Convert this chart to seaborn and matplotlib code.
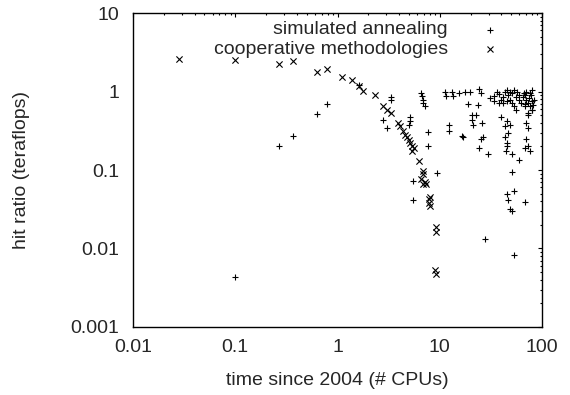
import numpy as np
import pandas as pd
import matplotlib
matplotlib.use('Agg')
import matplotlib.pyplot as plt
import matplotlib.ticker as mticker
import seaborn as sns

# simulated annealing (+)
sa_x = [0.10, 0.27, 0.37, 0.63, 0.79, 1.64, 2.80, 3.02, 3.30, 3.30,
        5.16, 5.16, 4.95, 5.5, 5.5, 6.6, 6.7, 6.8, 7.1, 6.9,
        7.6, 7.6, 9.3, 12.2, 12.2, 11.2, 11.6, 13.1, 13.6, 15.4,
        16.4, 16.8, 17.6, 19.9, 19.0, 20.7, 21.2, 20.7, 22.6, 23.8,
        24.4, 25.3, 24.0, 25.3, 26.1, 26.7, 29.9, 27.5, 31.1, 33.7,
        36.6, 38.2, 39.7, 41.4, 43.1, 44.9, 46.8, 48.7, 50.8, 52.9,
        55.1, 50.8, 55.1, 57.4, 59.8, 64.9, 70.4, 73.3, 76.4, 79.6,
        76.4, 79.6, 82.9, 73.3, 33.7, 38.2, 41.4, 44.9, 48.7, 52.9,
        59.8, 62.3, 67.6, 70.4, 78.0, 80.0, 81.0, 75.0, 66.0, 68.0,
        39.7, 43.1, 44.9, 43.1, 44.9, 44.9, 44.3, 46.8, 48.7, 50.8,
        50.8, 44.9, 46.8, 48.7, 50.8, 52.9, 52.9, 59.8, 67.6, 67.6,
        70.4, 70.4, 73.3, 73.3, 76.4, 73.3, 80.5, 68.7]
sa_y = [0.0043, 0.20, 0.275, 0.52, 0.70, 1.21, 0.44, 0.34, 0.85, 0.78,
        0.48, 0.42, 0.38, 0.073, 0.041, 0.95, 0.87, 0.78, 0.65, 0.71,
        0.305, 0.20, 0.091, 0.37, 0.31, 1.0, 0.87, 1.0, 0.87, 0.95,
        0.27, 0.26, 1.0, 1.0, 0.70, 0.50, 0.38, 0.44, 0.50, 0.68,
        1.08, 0.95, 0.19, 0.245, 0.40, 0.26, 0.16, 0.0132, 0.82, 0.87,
        1.0, 0.93, 0.785, 0.86, 1.0, 1.05, 0.91, 0.785, 0.71, 0.646,
        0.586, 0.95, 0.86, 1.0, 0.91, 0.86, 0.785, 0.71, 0.95, 1.05,
        0.646, 0.586, 0.785, 0.53, 0.75, 0.71, 0.71, 0.75, 1.0, 1.05,
        0.785, 0.71, 0.646, 1.0, 0.9, 0.75, 0.68, 0.82, 0.95, 0.9,
        0.48, 0.36, 0.42, 0.26, 0.22, 0.20, 0.175, 0.30, 0.38, 0.16,
        0.094, 0.049, 0.041, 0.032, 0.030, 0.054, 0.0083, 0.136, 0.039, 0.19,
        0.40, 0.245, 0.34, 0.20, 0.175, 0.50, 0.59, 0.70]

# cooperative methodologies (x)
cm_x = [0.028, 0.10, 0.27, 0.37, 0.63, 0.79, 1.11, 1.40, 1.64, 1.79,
        2.32, 2.80, 3.02, 3.30, 3.94, 4.04, 4.38, 4.57, 4.76, 4.95,
        5.16, 5.37, 5.6, 5.37, 6.3, 6.8, 6.8, 6.6, 7.1, 6.8,
        7.4, 7.8, 8.1, 7.8, 8.1, 9.1, 9.1, 8.9, 9.1]
cm_y = [2.57, 2.5, 2.24, 2.42, 1.79, 1.94, 1.55, 1.41, 1.19, 1.03,
        0.89, 0.646, 0.59, 0.53, 0.40, 0.36, 0.31, 0.28, 0.26, 0.244,
        0.22, 0.20, 0.19, 0.174, 0.13, 0.098, 0.088, 0.076, 0.07, 0.066,
        0.066, 0.043, 0.045, 0.038, 0.035, 0.0186, 0.0162, 0.0053, 0.0048]

x_ticks = [0.01, 0.1, 1, 10, 100]
y_ticks = [0.001, 0.01, 0.1, 1, 10]

sns.set_style('white')
plt.rcParams['font.family'] = ['Liberation Sans', 'DejaVu Sans']
FS = 14

fig = plt.figure(figsize=(5.7, 3.95), dpi=100)
ax = fig.add_axes([0.2333, 0.1722, 0.7177, 0.7948])

sa = pd.DataFrame({'x': sa_x, 'y': sa_y})
cm = pd.DataFrame({'x': cm_x, 'y': cm_y})
sns.scatterplot(data=sa, x='x', y='y', marker='+', color='black', s=25,
                linewidth=0.8, ax=ax, legend=False)
sns.scatterplot(data=cm, x='x', y='y', marker='x', color='black', s=20,
                linewidth=0.8, ax=ax, legend=False)

ax.set_xscale('log')
ax.set_yscale('log')
ax.set_xlim(0.01, 100)
ax.set_ylim(0.001, 10)
ax.xaxis.set_major_locator(mticker.FixedLocator(x_ticks))
ax.yaxis.set_major_locator(mticker.FixedLocator(y_ticks))
fmt = mticker.FuncFormatter(lambda v, p: '%g' % v)
ax.xaxis.set_major_formatter(fmt)
ax.yaxis.set_major_formatter(fmt)
ax.xaxis.set_minor_locator(mticker.LogLocator(base=10, subs=np.arange(2, 10)))
ax.yaxis.set_minor_locator(mticker.LogLocator(base=10, subs=np.arange(2, 10)))
ax.xaxis.set_minor_formatter(mticker.NullFormatter())
ax.yaxis.set_minor_formatter(mticker.NullFormatter())
ax.tick_params(which='both', direction='in', top=True, right=True,
               labelsize=FS, color='black')
ax.tick_params(axis='x', which='major', pad=8.5)
ax.tick_params(axis='y', which='major', pad=10)
ax.tick_params(which='major', length=3.2, width=0.8)
ax.tick_params(which='minor', length=1.6, width=0.8)
for s in ax.spines.values():
    s.set_color('black')
    s.set_linewidth(1.0)

ax.set_xlabel('time since 2004 (# CPUs)', fontsize=FS, va='center')
ax.set_ylabel('hit ratio (teraflops)', fontsize=FS, va='center')
ax.xaxis.set_label_coords(0.5, -0.17)
ax.yaxis.set_label_coords(-0.272, 0.5)

# gnuplot-style key: right-justified text, sample to the right
for label, mk, yy in [('simulated annealing', '+', 0.946),
                      ('cooperative methodologies', 'x', 0.885)]:
    ax.text(0.770, yy, label, transform=ax.transAxes, ha='right',
            va='center', fontsize=FS)
    ax.plot([0.873], [yy], marker=mk, color='black', markersize=4,
            markeredgewidth=0.8, linestyle='none', transform=ax.transAxes,
            clip_on=False)

fig.savefig('out.png', dpi=100)
